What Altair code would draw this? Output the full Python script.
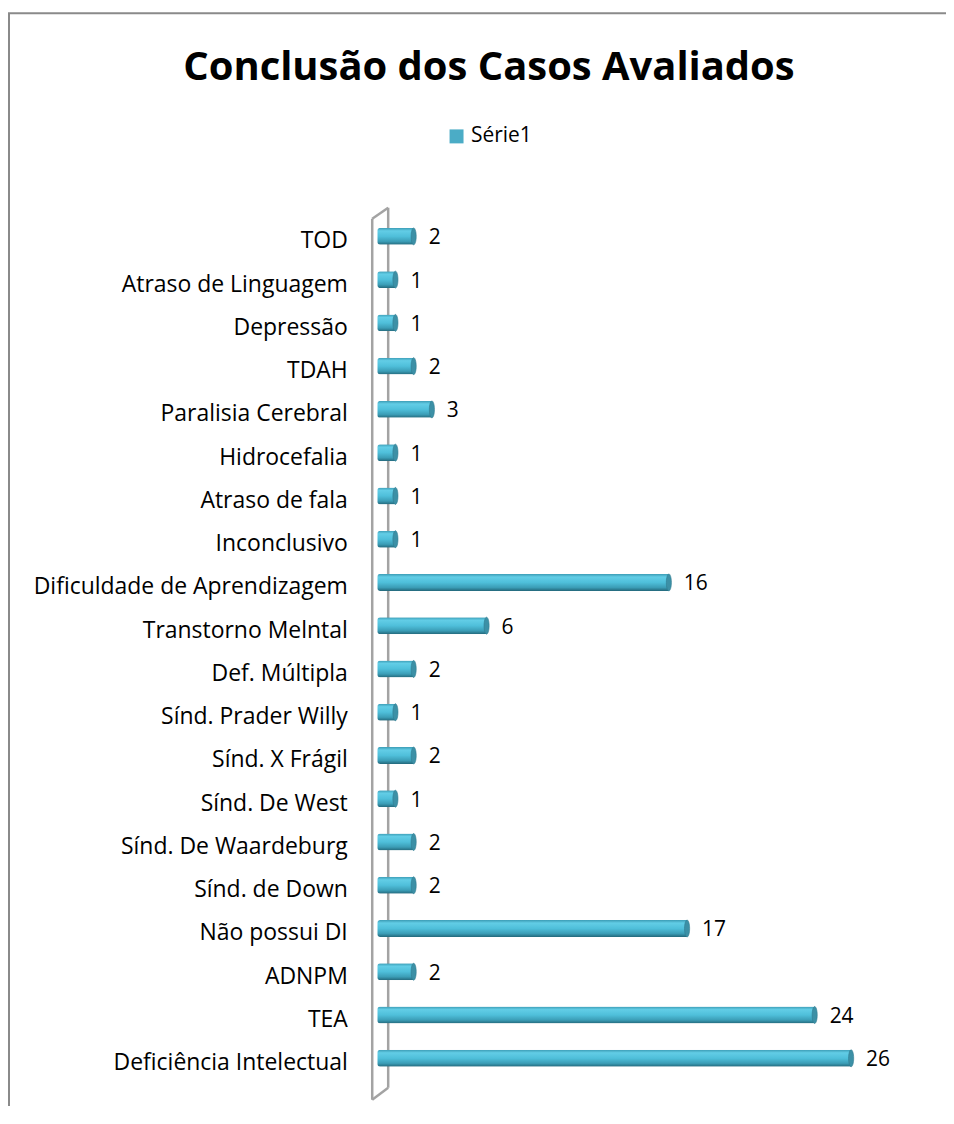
import altair as alt
import pandas as pd

categories = ["TOD", "Atraso de Linguagem", "Depressão", "TDAH", "Paralisia Cerebral",
              "Hidrocefalia", "Atraso de fala", "Inconclusivo", "Dificuldade de Aprendizagem",
              "Transtorno Melntal", "Def. Múltipla", "Sínd. Prader Willy", "Sínd. X Frágil",
              "Sínd. De West", "Sínd. De Waardeburg", "Sínd. de Down", "Não possui DI",
              "ADNPM", "TEA ", "Deficiência Intelectual"]
values = [2, 1, 1, 2, 3, 1, 1, 1, 16, 6, 2, 1, 2, 1, 2, 2, 17, 2, 24, 26]
series_name = "Série1"
title_text = "Conclusão dos Casos Avaliados"

df = pd.DataFrame({"categoria": categories, "valor": values, "serie": series_name})
one = pd.DataFrame({"k": [0]})

W, H = 548, 867
FONT = "Open Sans"

y_enc = alt.Y("categoria:N", sort=categories, title=None,
              axis=alt.Axis(domain=False, ticks=False, grid=False, labelFont=FONT,
                            labelFontSize=23, labelColor="black", labelPadding=30,
                            labelLimit=400))
x_enc = alt.X("valor:Q", scale=alt.Scale(domain=[0, 30], nice=False), axis=None)

grey = "#a3a3a3"

def seg(x1, y1, x2, y2, color=grey, width=2.5):
    return alt.Chart(one).mark_rule(color=color, strokeWidth=width).encode(
        x=alt.value(x1), y=alt.value(y1), x2=alt.value(x2), y2=alt.value(y2))

# chart frame (top and left border)
frame_top = seg(-370, -207, 700, -207, color="#8a8a8a", width=2)
frame_left = seg(-369, -207, -369, 1000, color="#8a8a8a", width=2)

# 3D wall
wall_back = seg(11, -12, 11, 870)
wall_front = seg(-5, -1, -5, 882)
wall_top = seg(-5, -1, 11, -12)
wall_bot = seg(-5, 882, 11, 870)

grad = alt.Gradient(
    gradient="linear",
    stops=[alt.GradientStop(color="#3b9bb4", offset=0),
           alt.GradientStop(color="#62cde6", offset=0.18),
           alt.GradientStop(color="#4fbfda", offset=0.5),
           alt.GradientStop(color="#3b9db6", offset=0.8),
           alt.GradientStop(color="#23687b", offset=1)],
    x1=0, x2=0, y1=0, y2=1)

bars = alt.Chart(df).mark_bar(color=grad, size=17, yOffset=-5, cornerRadiusTopLeft=3,
                              cornerRadiusBottomLeft=3).encode(x=x_enc, y=y_enc)

caps = alt.Chart(df).mark_point(
    shape="M0,-1A0.3,1 0 1,1 0,1A0.3,1 0 1,1 0,-1Z", size=289, filled=True,
    color="#3c90a6", opacity=1, yOffset=-5, stroke="#2f7a8e", strokeWidth=0.6
).encode(x=x_enc, y=y_enc)

labels = alt.Chart(df).mark_text(align="left", baseline="middle", dx=15, yOffset=-3,
                                 font=FONT, fontSize=21, color="black").encode(
    x=x_enc, y=y_enc, text=alt.Text("valor:Q"))

legend_layer = alt.Chart(one.assign(serie=series_name)).mark_square(opacity=0).encode(
    x=alt.value(0), y=alt.value(0),
    color=alt.Color("serie:N", scale=alt.Scale(domain=[series_name], range=["#4BACC6"]),
                    legend=alt.Legend(title=None, orient="none", legendX=69, legendY=-94,
                                      symbolType="square", symbolSize=196, symbolOpacity=1,
                                      symbolStrokeWidth=0, labelFont=FONT, labelFontSize=21,
                                      labelColor="black", padding=0, labelOffset=4)))

chart = alt.layer(frame_top, frame_left, wall_back, bars, caps, wall_front, wall_top,
                  wall_bot, labels, legend_layer).properties(
    width=W, height=H,
    title=alt.TitleParams(title_text, font=FONT, fontSize=40, fontWeight="bold",
                          color="black", anchor="middle", frame="group", dx=-162,
                          offset=-76),
    padding={"left": 370, "top": 211, "right": 22, "bottom": 20},
    autosize=alt.AutoSizeParams(type="none"),
).configure_view(stroke=None)

chart.save("out.html", embed_options={"renderer": "svg", "actions": False})
